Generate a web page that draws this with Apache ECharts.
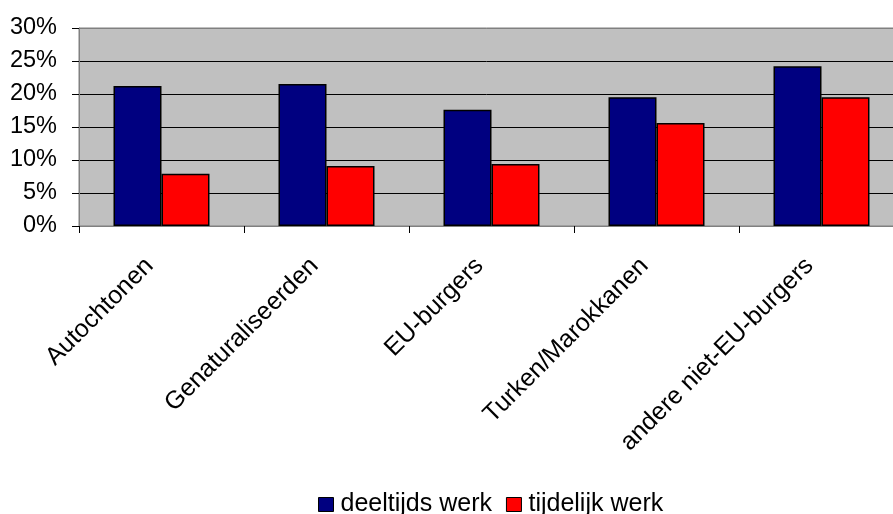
<!DOCTYPE html>
<html>
<head>
<meta charset="utf-8">
<script src="https://cdn.jsdelivr.net/npm/echarts@6/dist/echarts.min.js"></script>
<style>html,body{margin:0;padding:0;background:#fff}#c{width:893px;height:514px}</style>
</head>
<body>
<div id="c"></div>
<script>
var categories = ['Autochtonen', 'Genaturaliseerden', 'EU-burgers', 'Turken/Marokkanen', 'andere niet-EU-burgers'];
var seriesNames = ['deeltijds werk', 'tijdelijk werk'];
var deeltijds = [21.2, 21.5, 17.6, 19.5, 24.2];
var tijdelijk = [7.9, 9.1, 9.4, 15.6, 19.5];
var yTicks = [0, 5, 10, 15, 20, 25, 30];

var font = 'Liberation Sans, Arial, sans-serif';
var chart = echarts.init(document.getElementById('c'));
chart.setOption({
  animation: false,
  backgroundColor: '#ffffff',
  grid: {
    left: 79, right: -11, top: 28, bottom: 288,
    outerBoundsMode: 'none', containLabel: false,
    show: true, backgroundColor: '#C0C0C0', borderColor: '#808080', borderWidth: 1
  },
  legend: {
    data: seriesNames,
    left: 318, top: 492, padding: 0,
    icon: 'rect', itemWidth: 15, itemHeight: 14, itemGap: 14,
    textStyle: { fontFamily: font, fontSize: 25, color: '#000', padding: [0, 0, 0, 2] },
    itemStyle: { borderColor: '#000', borderWidth: 1 }
  },
  xAxis: {
    type: 'category',
    data: categories,
    axisLine: { lineStyle: { color: '#808080', width: 1 } },
    axisTick: { show: true, length: 7, lineStyle: { color: '#000' } },
    axisLabel: { rotate: 45, interval: 0, margin: 24, padding: [0, 17, 0, 0], fontFamily: font, fontSize: 25, color: '#000' }
  },
  yAxis: {
    type: 'value',
    min: yTicks[0], max: yTicks[yTicks.length - 1], interval: 5,
    axisLine: { show: true, lineStyle: { color: '#808080', width: 1 } },
    axisTick: { show: true, length: 7, lineStyle: { color: '#000' } },
    axisLabel: { formatter: '{value}%', margin: 22, fontFamily: font, fontSize: 23.5, color: '#000' },
    splitLine: { show: true, lineStyle: { color: ['#808080', '#000', '#000', '#000', '#000', '#000', '#808080'], width: 1 } }
  },
  series: [
    {
      name: seriesNames[0], type: 'bar', data: deeltijds,
      barWidth: 48, barGap: '0%',
      itemStyle: { color: '#000080', borderColor: '#000', borderWidth: 1.5 }
    },
    {
      name: seriesNames[1], type: 'bar', data: tijdelijk,
      barWidth: 48, barGap: '0%',
      itemStyle: { color: '#FF0000', borderColor: '#000', borderWidth: 1.5 }
    }
  ]
});
</script>
</body>
</html>
